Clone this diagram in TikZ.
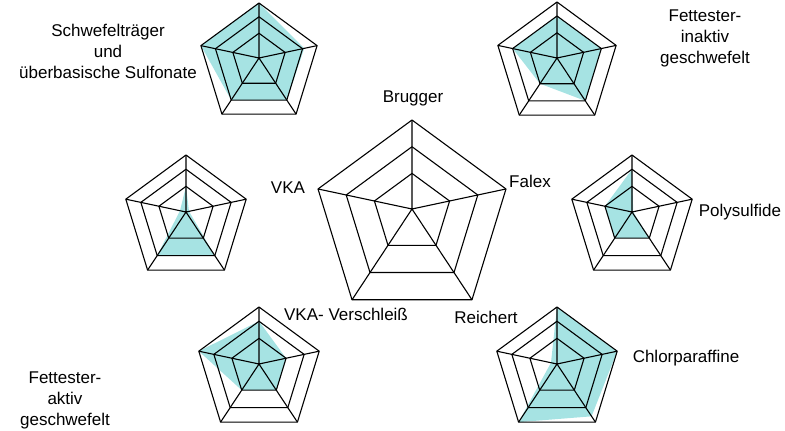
\documentclass[tikz,border=0pt]{standalone}
\usepackage{fontspec}
\setmainfont{Liberation Sans}
\definecolor{fillc}{RGB}{150,222,222}
\newcommand{\radarchart}[8]{%
\begin{scope}[shift={(#1,-#2)},scale=#3]
\fill[fillc,opacity=0.85] (0,#4) -- (1.056*#5,0.225*#5) -- (0.674*#6,-1.02*#6) -- (-0.674*#7,-1.02*#7) -- (-1.056*#8,0.225*#8) -- cycle;
\foreach \r in {0.45,0.75,1}{
\draw[grid] (0,\r) -- (1.056*\r,0.225*\r) -- (0.674*\r,-1.02*\r) -- (-0.674*\r,-1.02*\r) -- (-1.056*\r,0.225*\r) -- cycle;}
\draw[grid] (0,0) -- (0,1) (0,0) -- (1.056,0.225) (0,0) -- (0.674,-1.02) (0,0) -- (-0.674,-1.02) (0,0) -- (-1.056,0.225);
\end{scope}}
\begin{document}
\begin{tikzpicture}[x=1pt,y=1pt,grid/.style={draw=black,line width=1.1pt,line join=round},
lab/.style={font=\fontsize{17}{21}\selectfont,align=center,inner sep=0pt}]
\useasboundingbox (0,0) rectangle (785,-431);
\radarchart{259}{58}{55}{1}{0.78}{0.75}{0.75}{1}
\radarchart{557}{58}{56}{0.75}{0.75}{0.75}{0.45}{0.75}
\radarchart{186}{212}{57}{0.45}{0.05}{0.75}{0.75}{0.1}
\radarchart{632}{212}{57}{0.75}{0.02}{0.45}{0.45}{0.45}
\radarchart{259}{364}{57}{0.75}{0.45}{0.45}{0.45}{1}
\radarchart{557}{364}{57}{1}{1}{0.9}{1}{0.1}
\begin{scope}[shift={(412,-209)},scale=89]
\foreach \r in {0.40,0.70,1}{
\draw[grid] (0,\r) -- (1.056*\r,0.225*\r) -- (0.674*\r,-1.02*\r) -- (-0.674*\r,-1.02*\r) -- (-1.056*\r,0.225*\r) -- cycle;}
\draw[grid] (0,0) -- (0,1) (0,0) -- (1.056,0.225) (0,0) -- (0.674,-1.02) (0,0) -- (-0.674,-1.02) (0,0) -- (-1.056,0.225);
\end{scope}
\node[lab] (brugger) at (413,-98) {Brugger};
\node[lab] (falex) at (530,-181) {Falex};
\node[lab] (reichert) at (486,-317) {Reichert};
\node[lab] (vkav) at (346,-314) {VKA- Verschleiß};
\node[lab] (vka) at (288,-188) {VKA};
\node[lab] (schw) at (108,-51) {Schwefelträger\\und\\überbasische Sulfonate};
\node[lab] (fin) at (705,-38) {Fettester-\\inaktiv\\geschwefelt};
\node[lab] (poly) at (740,-212) {Polysulfide};
\node[lab] (chlor) at (686,-358) {Chlorparaffine};
\node[lab] (fak) at (65,-400) {Fettester-\\aktiv\\geschwefelt};
\end{tikzpicture}
\end{document}
